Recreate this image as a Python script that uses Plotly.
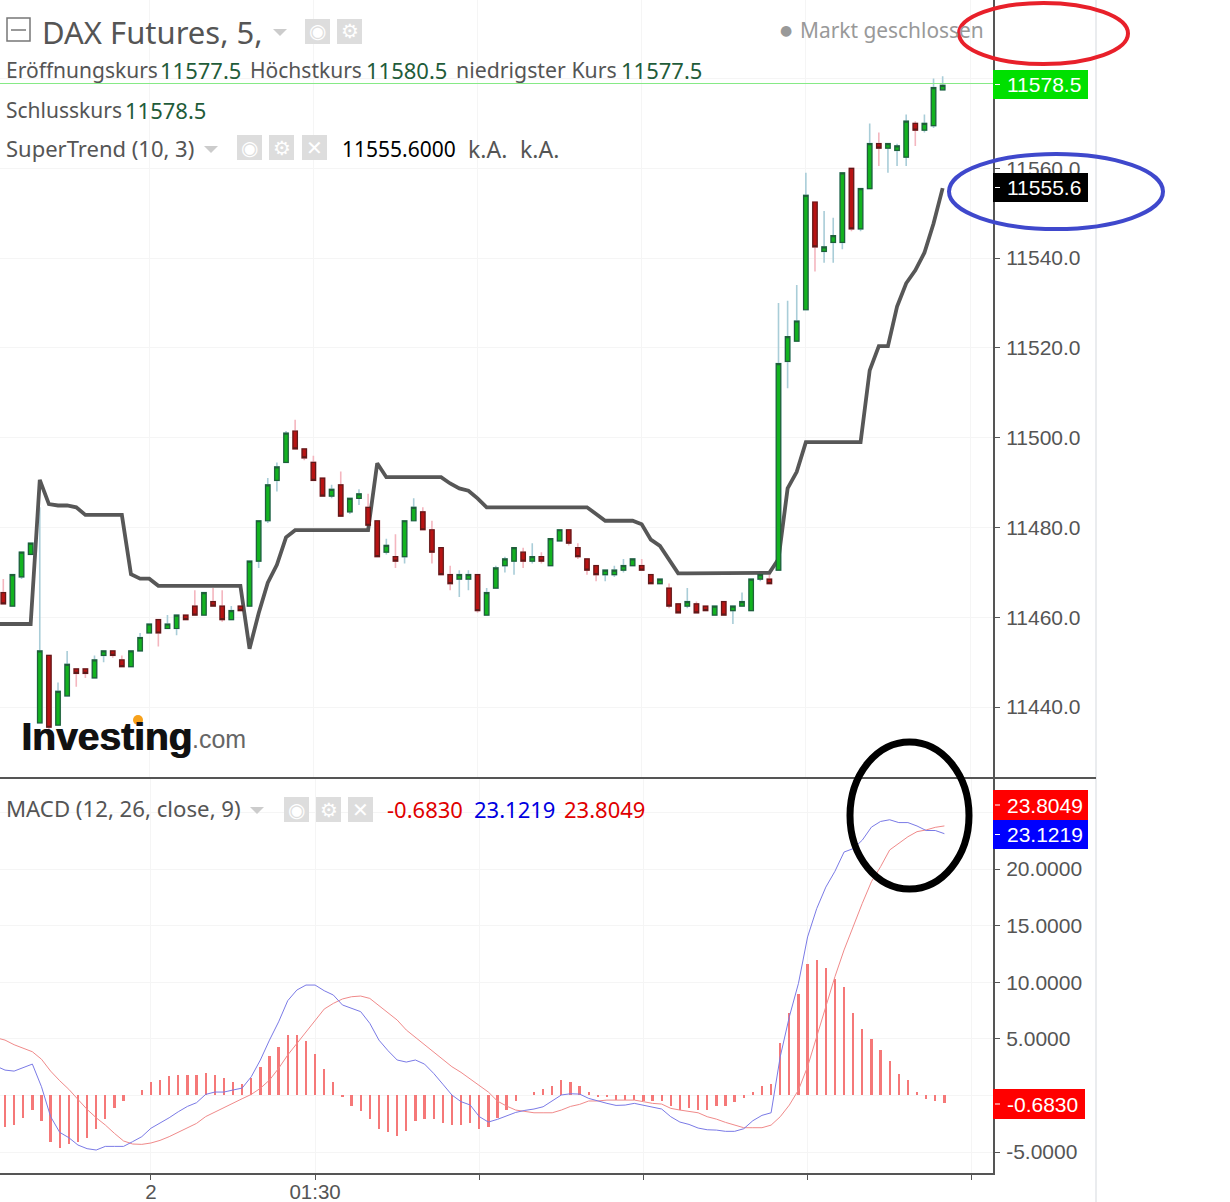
import plotly.graph_objects as go

# Bars are 5 minutes apart, bar index is used as the x value
opens = [
    11465.5, 11462.5, 11469, 11474, 11436.5, 11451.5, 11436, 11442.5, 11448.5, 11448.5,
    11446.5, 11451.5, 11452.5, 11450.5, 11449, 11452.5, 11456.5, 11459.5, 11457.5, 11457.5,
    11460.5, 11462.5, 11460.5, 11463.5, 11462.5, 11459.5, 11462.5, 11462.5, 11472.5, 11481.5,
    11490.5, 11494.5, 11501.5, 11497.5, 11494.5, 11491, 11487, 11489.5, 11483.5, 11486.5,
    11484.5, 11481.5, 11474.5, 11473.5, 11473.5, 11481.5, 11483.5, 11479.5, 11475.5, 11469.5,
    11468.5, 11468.5, 11469.5, 11460.5, 11466.5, 11471.5, 11472.5, 11474.5, 11472.5, 11473.5,
    11471.5, 11477, 11479.5, 11475.5, 11473, 11471.5, 11469.5, 11469.5, 11470.5, 11471.5,
    11471.5, 11469.5, 11467.5, 11466.5, 11463, 11462.5, 11463, 11462.5, 11460.5, 11463.5,
    11461.5, 11462.5, 11461.5, 11468.5, 11468.5, 11470.5, 11517, 11521.5, 11528.5, 11552.5,
    11541.5, 11543.5, 11543.5, 11560, 11546.5, 11555.5, 11565.5, 11564.5, 11564, 11562.5,
    11570, 11568.5, 11569.5, 11577.5,
]
highs = [
    11468.5, 11469.5, 11474.5, 11476.5, 11484.5, 11451.5, 11445.5, 11452.5, 11448.5, 11448.5,
    11451.5, 11452.5, 11452.5, 11451.5, 11452.5, 11456.5, 11458.5, 11459.5, 11460.5, 11460.5,
    11460.5, 11466, 11465.5, 11466.5, 11466, 11462.5, 11462.5, 11472.5, 11481.5, 11491,
    11494.5, 11501.5, 11504, 11497.5, 11496, 11491, 11489.5, 11492.5, 11486.5, 11488.5,
    11487.5, 11481.5, 11477.5, 11478.5, 11481.5, 11486.5, 11484.5, 11481.5, 11475.5, 11471.5,
    11470.5, 11470.5, 11469.5, 11466.5, 11471.5, 11473.5, 11475.5, 11475.5, 11476.5, 11474.5,
    11477.5, 11479.5, 11479.5, 11476.5, 11473, 11471.5, 11470.5, 11471.5, 11473, 11473,
    11473, 11469.5, 11468.5, 11467.5, 11463, 11466.5, 11463.5, 11462.5, 11462.5, 11463.5,
    11462.5, 11465.5, 11468.5, 11469.5, 11469.5, 11530, 11530.5, 11534, 11559, 11552.5,
    11550.5, 11549, 11559, 11560, 11555.5, 11570, 11568, 11565.5, 11565.5, 11572,
    11570.5, 11572, 11580, 11580.5,
]
lows = [
    11463, 11462.5, 11468.5, 11474, 11436.5, 11435, 11436, 11442.5, 11444.5, 11446.5,
    11446.5, 11450, 11451, 11449, 11449, 11452.5, 11456.5, 11453.5, 11457.5, 11456,
    11459.5, 11460.5, 11460.5, 11462.5, 11459, 11459.5, 11461.5, 11462.5, 11471, 11481,
    11488, 11494.5, 11497.5, 11495, 11490.5, 11487, 11486.5, 11482.5, 11483, 11485,
    11480.5, 11473.5, 11474, 11471, 11472, 11481.5, 11479.5, 11472, 11469.5, 11466,
    11464.5, 11466, 11461, 11460.5, 11466.5, 11470, 11469.5, 11471, 11472, 11472,
    11471.5, 11477, 11476, 11473, 11469.5, 11468, 11468, 11469, 11470, 11471.5,
    11470.5, 11467.5, 11467.5, 11462, 11461, 11462, 11461, 11461.5, 11460.5, 11460.5,
    11458.5, 11462.5, 11461.5, 11468, 11467.5, 11470.5, 11511, 11521.5, 11528.5, 11537,
    11539, 11539, 11542, 11546, 11546, 11555.5, 11560.5, 11559, 11560.5, 11560.5,
    11565, 11568, 11569, 11577.5,
]
closes = [
    11463, 11469.5, 11474.5, 11476.5, 11452.5, 11435.5, 11443.5, 11449.5, 11447.5, 11447.5,
    11450.5, 11452.5, 11451.5, 11449, 11452.5, 11455.5, 11458.5, 11456.5, 11458.5, 11460.5,
    11459.5, 11460.5, 11465.5, 11462.5, 11459.5, 11461.5, 11461.5, 11472.5, 11481.5, 11489.5,
    11493.5, 11501, 11497.5, 11495.5, 11490.5, 11487, 11488.5, 11482.5, 11486.5, 11487.5,
    11480.5, 11473.5, 11476, 11472.5, 11481.5, 11484.5, 11479.5, 11474.5, 11469.5, 11467.5,
    11469.5, 11469.5, 11461.5, 11465.5, 11471, 11473, 11475.5, 11472.5, 11473.5, 11472.5,
    11477.5, 11479.5, 11476.5, 11473.5, 11470.5, 11469.5, 11470.5, 11470.5, 11471.5, 11473,
    11470.5, 11467.5, 11468.5, 11462.5, 11461, 11463.5, 11461, 11461.5, 11462.5, 11460.5,
    11462.5, 11463.5, 11468.5, 11469.5, 11467.5, 11516.5, 11522.5, 11526, 11554, 11542.5,
    11542.5, 11545, 11559, 11546.5, 11555.5, 11565.5, 11564.5, 11565.5, 11565, 11570.5,
    11568.5, 11570, 11578, 11578.5,
]
# The three line series start one bar earlier, at index -1, just off the left edge
supertrend = [
    11458.5, 11458.5, 11458.5, 11458.5, 11458.5, 11490.6, 11485.2, 11484.9, 11484.9, 11484.5, 11482.8,
    11482.8, 11482.8, 11482.8, 11482.8, 11469.6, 11468.6, 11468.6, 11467, 11467, 11467,
    11467, 11467, 11467, 11467, 11467, 11467, 11467, 11453, 11460.9, 11467.7,
    11471.7, 11477.8, 11479.4, 11479.4, 11479.4, 11479.4, 11479.4, 11479.4, 11479.4, 11479.4,
    11479.4, 11494.3, 11491.2, 11491.2, 11491.2, 11491.2, 11491.2, 11491.2, 11491.2, 11489.8,
    11488.7, 11488.2, 11486.5, 11484.5, 11484.5, 11484.5, 11484.5, 11484.5, 11484.5, 11484.5,
    11484.5, 11484.5, 11484.5, 11484.5, 11484.5, 11483, 11481.5, 11481.5, 11481.5, 11481.5,
    11480.7, 11477.3, 11475.9, 11473, 11469.8, 11469.8, 11469.8, 11469.8, 11469.8, 11469.8,
    11469.8, 11469.8, 11469.8, 11469.8, 11469.9, 11473, 11488.7, 11492.4, 11499, 11499,
    11499, 11499, 11499, 11499, 11499, 11515, 11520.4, 11520.4, 11529.2, 11534.4,
    11537.3, 11541.2, 11547.7, 11555.6,
]
macd_line = [
    2.6, 2.24, 2.15, 2.48, 2.77, 0.77, -1.87, -3.26, -3.73, -4.38, -4.7,
    -4.82, -4.5, -4.5, -4.5, -4.08, -3.64, -2.9, -2.47, -1.97, -1.44,
    -0.97, -0.64, 0.09, 0.3, 0.3, 0.48, 0.65, 1.65, 3.13, 4.89,
    6.5, 8.37, 9.31, 9.75, 9.75, 9.25, 8.87, 7.99, 7.69, 7.4,
    6.37, 4.89, 3.95, 3.13, 2.95, 3.13, 2.77, 1.95, 1.0, 0.04,
    -0.55, -0.84, -1.87, -2.35, -2.11, -1.82, -1.5, -1.32, -1.2, -1.0,
    -0.47, 0.04, 0.15, 0.12, -0.26, -0.5, -0.7, -0.88, -0.85, -0.7,
    -0.85, -1.03, -1.2, -1.88, -2.35, -2.56, -2.88, -3.03, -3.06, -3.17,
    -3.17, -2.94, -2.23, -1.76, -1.53, 3.42, 6.95, 9.9, 14.0, 16.5,
    18.4, 19.8, 21.5, 21.8, 22.55, 23.7, 24.2, 24.35, 24.1, 24.1,
    23.8, 23.4, 23.4, 23.1219,
]
signal_line = [
    5.1, 4.89, 4.48, 4.16, 3.86, 3.2, 2.15, 1.3, 0.54, -0.35, -1.23,
    -1.97, -2.61, -3.35, -4.02, -4.29, -4.32, -4.2, -3.97, -3.64, -3.26,
    -2.9, -2.47, -1.87, -1.46, -1.11, -0.64, -0.29, 0.09, 0.63, 1.36,
    2.39, 3.57, 4.6, 5.63, 6.66, 7.63, 8.13, 8.52, 8.72, 8.78,
    8.57, 7.93, 7.25, 6.66, 5.78, 5.13, 4.54, 3.86, 3.19, 2.54,
    2.04, 1.45, 0.92, 0.3, -0.5, -0.94, -1.29, -1.44, -1.53, -1.53,
    -1.53, -1.29, -0.97, -0.79, -0.49, -0.49, -0.41, -0.41, -0.41, -0.41,
    -0.55, -0.7, -0.76, -1.14, -1.29, -1.41, -1.53, -1.88, -2.09, -2.38,
    -2.62, -2.85, -2.85, -2.85, -2.62, -1.88, -0.85, 0.48, 2.54, 5.19,
    7.84, 10.49, 12.85, 14.93, 16.97, 18.88, 20.2, 21.68, 22.27, 22.85,
    23.3, 23.45, 23.68, 23.8049,
]
macd_hist = [
    -2.8, -2.6, -1.95, -1.3, -2.3, -4.1, -4.6, -4.3, -4.1, -3.75,
    -2.95, -2.1, -1.1, -0.5, 0, 0.5, 1.2, 1.35, 1.7, 1.85,
    1.85, 1.85, 2.0, 1.85, 1.55, 1.2, 1.0, 1.55, 2.5, 3.5,
    4.3, 5.3, 5.3, 4.85, 3.65, 2.35, 1.2, -0.1, -0.9, -1.4,
    -2.1, -2.95, -3.25, -3.6, -3.1, -2.3, -2.1, -2.1, -2.45, -2.6,
    -2.6, -2.45, -2.95, -2.8, -2.0, -1.3, -0.45, 0, 0.33, 0.54,
    0.86, 1.36, 1.18, 0.86, 0.33, -0.05, -0.17, -0.4, -0.4, -0.4,
    -0.47, -0.47, -0.47, -0.93, -1.3, -1.14, -1.3, -1.3, -0.93, -0.93,
    -0.6, -0.26, 0.33, 0.86, 1.0, 4.66, 7.3, 9.0, 11.6, 11.95,
    11.3, 10.3, 9.6, 7.3, 5.85, 5.0, 4.0, 3.0, 1.86, 1.36,
    0.33, -0.3, -0.47, -0.683,
]

time_ticks = [16, 34, 52, 70, 88, 106]
time_labels = ["2", "01:30", "", "", "", ""]
price_ticks = [11440, 11460, 11480, 11500, 11520, 11540, 11560, 11580]
price_labels = ["11440.0", "11460.0", "11480.0", "11500.0", "11520.0", "11540.0", "11560.0", "11580.0"]
macd_ticks = [-5, 0, 5, 10, 15, 20, 25]
macd_labels = ["-5.0000", "0.0000", "5.0000", "10.0000", "15.0000", "20.0000", "25.0000"]
last_price_line = 11578.9

WIDTH, HEIGHT = 1230, 1202
PLOT_W, PLOT_H = 993, 1173
GREY = "#555555"
VALUE_GREEN = "#1f5c3a"
FONT = "Noto Sans"
AXIS_FONT = dict(size=21, color=GREY, family="Liberation Sans")

bars = list(range(len(closes)))
line_bars = list(range(-1, len(closes)))
body_tops = [max(o, c) for o, c in zip(opens, closes)]
body_bottoms = [min(o, c) for o, c in zip(opens, closes)]


def px(x):
    return x / PLOT_W


def py(y):
    return 1 - y / PLOT_H


def label(x, y, text, size=22, color=GREY, family=FONT, anchor="left", shadow=None):
    font = dict(size=size, color=color, family=family)
    if shadow:
        font["shadow"] = shadow
    return dict(
        xref="paper", yref="paper", x=px(x), y=py(y), text=text, showarrow=False,
        xanchor=anchor, yanchor="middle", borderpad=0, borderwidth=0, font=font,
    )


def rect(x0, y0, x1, y1, fill, line=None, width=0):
    return dict(
        type="rect", xref="paper", yref="paper", x0=px(x0), x1=px(x1), y0=py(y0), y1=py(y1),
        fillcolor=fill, line=dict(color=line or fill, width=width), layer="above",
    )


def ellipse(x0, y0, x1, y1, color, width, fill=None):
    shape = dict(
        type="circle", xref="paper", yref="paper", x0=px(x0), x1=px(x1), y0=py(y0), y1=py(y1),
        line=dict(color=color, width=width), layer="above",
    )
    if fill:
        shape["fillcolor"] = fill
    return shape


def hline(x0, x1, y, color, width):
    return dict(
        type="line", xref="paper", yref="paper", x0=px(x0), x1=px(x1), y0=py(y), y1=py(y),
        line=dict(color=color, width=width), layer="above",
    )


def triangle(x, y):
    path = f"M {px(x)} {py(y)} L {px(x + 14)} {py(y)} L {px(x + 7)} {py(y + 7)} Z"
    return dict(type="path", xref="paper", yref="paper", path=path, fillcolor="#cccccc",
                line=dict(width=0), layer="above")


fig = go.Figure()

# Wicks sit under the SuperTrend line, bodies go on an overlay axis above it
fig.add_trace(go.Candlestick(
    x=bars, open=opens, high=highs, low=lows, close=closes, xaxis="x", yaxis="y",
    increasing=dict(line=dict(color="#a9cdd8", width=1.6), fillcolor="#a9cdd8"),
    decreasing=dict(line=dict(color="#f4b6bf", width=1.6), fillcolor="#f4b6bf"),
))
fig.add_trace(go.Scatter(
    x=line_bars, y=supertrend, mode="lines", xaxis="x", yaxis="y",
    line=dict(color="#575757", width=3.8),
))
fig.add_trace(go.Candlestick(
    x=bars, open=opens, high=body_tops, low=body_bottoms, close=closes, xaxis="x3", yaxis="y3",
    increasing=dict(line=dict(color="#1f5f38", width=1.2), fillcolor="#12b320"),
    decreasing=dict(line=dict(color="#5e1a1a", width=1.2), fillcolor="#b81313"),
))

fig.add_trace(go.Bar(
    x=bars, y=macd_hist, width=0.25, xaxis="x2", yaxis="y2",
    marker=dict(color="#f57878", line=dict(width=0)),
))
fig.add_trace(go.Scatter(
    x=line_bars, y=signal_line, mode="lines", xaxis="x2", yaxis="y2",
    line=dict(color="#f08a8a", width=1),
))
fig.add_trace(go.Scatter(
    x=line_bars, y=macd_line, mode="lines", xaxis="x2", yaxis="y2",
    line=dict(color="#7a7ae6", width=1),
))

price_axis = dict(
    domain=[py(778), 1], range=[11424.2, 11597.5], side="right",
    tickmode="array", tickvals=price_ticks, ticktext=price_labels,
    showgrid=True, gridcolor="#f5f5f5", zeroline=False,
    showline=True, linecolor=GREY, linewidth=2, ticks="outside", ticklen=5, tickcolor=GREY,
    tickfont=AXIS_FONT, ticklabelstandoff=2,
)
candle_x = dict(
    range=[-0.362, 108.52], tickmode="array", tickvals=time_ticks, ticktext=time_labels,
    showgrid=True, gridcolor="#f5f5f5", zeroline=False, showticklabels=False, ticks="",
    rangeslider=dict(visible=False),
)

fig.update_layout(
    width=WIDTH, height=HEIGHT, paper_bgcolor="white", plot_bgcolor="white",
    margin=dict(l=0, r=WIDTH - PLOT_W, t=0, b=HEIGHT - PLOT_H, autoexpand=False),
    showlegend=False, boxgap=0.3, bargap=0,
    xaxis=dict(candle_x, anchor="y"),
    yaxis=dict(price_axis, anchor="x"),
    xaxis3=dict(candle_x, overlaying="x", anchor="y3", showgrid=False, visible=False),
    yaxis3=dict(
        overlaying="y", domain=price_axis["domain"], range=price_axis["range"],
        side="right", visible=False, showgrid=False,
    ),
    xaxis2=dict(
        domain=[0, 1], range=[-0.548, 108.33], anchor="y2",
        tickmode="array", tickvals=time_ticks, ticktext=time_labels,
        showgrid=True, gridcolor="#f5f5f5", zeroline=False,
        showline=True, linecolor=GREY, linewidth=2, ticks="outside", ticklen=5, tickcolor=GREY,
        tickfont=dict(AXIS_FONT, size=20.5), ticklabelstandoff=-6,
    ),
    yaxis2=dict(
        domain=[0, py(779)], range=[-6.85, 27.95], side="right", anchor="x2",
        tickmode="array", tickvals=macd_ticks, ticktext=macd_labels,
        showgrid=True, gridcolor="#f5f5f5", zeroline=False,
        showline=True, linecolor=GREY, linewidth=2, ticks="outside", ticklen=5, tickcolor=GREY,
        tickfont=AXIS_FONT, ticklabelstandoff=2,
    ),
)

shapes = [
    # pane divider and outer border
    hline(0, 1096, 778, GREY, 2),
    dict(type="line", xref="paper", yref="paper", x0=px(1096), x1=px(1096), y0=py(0), y1=py(1202),
         line=dict(color="#d5d9de", width=1), layer="below"),
    # last price line
    dict(type="line", xref="x", yref="y", x0=-0.362, x1=108.52, y0=last_price_line, y1=last_price_line,
         line=dict(color="#86ea86", width=1), layer="above"),
    # collapse button
    rect(7, 18, 30, 41, "white", "#777777", 1.5),
    hline(11, 26, 30, "#777777", 1.5),
    triangle(273, 29),
    triangle(204, 146),
    triangle(250, 807),
    # orange dot of the logo
    ellipse(133, 715, 143, 725, "#f7a11a", 0, "#f7a11a"),
]

annotations = [
    label(42, 32, "DAX Futures, 5,", 31),
    label(6, 70, "Eröffnungskurs", 21),
    label(160, 70, "11577.5", color=VALUE_GREEN),
    label(250, 70, "Höchstkurs", 21),
    label(366, 70, "11580.5", color=VALUE_GREEN),
    label(456, 70, "niedrigster Kurs", 21.3),
    label(621, 70, "11577.5", color=VALUE_GREEN),
    label(6, 109.5, "Schlusskurs", 21),
    label(125, 109.5, "11578.5", color=VALUE_GREEN),
    label(6, 148, "SuperTrend (10, 3)"),
    label(342, 148.5, "11555.6000", 21, color="black"),
    label(468, 148.5, "k.A.", 23),
    label(520, 148.5, "k.A.", 23),
    label(6, 808.5, "MACD (12, 26, close, 9)", 22.2),
    label(387, 809, "-0.6830", color="#e00000"),
    label(474, 809, "23.1219", color="#0000e0"),
    label(564, 809, "23.8049", color="#e00000"),
    label(780, 30, "●", 14, "#999999", "DejaVu Sans"),
    label(800, 30, "Markt geschlossen", 20.9, "#999999"),
    label(21, 736, "<b>Investing</b>", 39, "#111111", "Liberation Sans", shadow="1px 0px 0px #111111"),
    label(192, 739, ".com", 25, "#666666", "Liberation Sans"),
]

# grey icon buttons next to the legend rows
for x0, y0, glyph in [
    (305, 19, "◉"), (337, 19, "⚙"),
    (237, 135, "◉"), (269, 135, "⚙"), (302, 135, "✕"),
    (284, 797, "◉"), (316, 797, "⚙"), (348, 797, "✕"),
]:
    shapes.append(rect(x0, y0, x0 + 25, y0 + 25, "#dddddd"))
    annotations.append(label(x0 + 12.5, y0 + 12.5, glyph, 20, "white", "DejaVu Sans", "center"))

# value tags on the right hand axis
for y0, y1, x1, color, text in [
    (70, 99, 1088, "#00e000", "11578.5"),
    (173, 202, 1088, "#000000", "11555.6"),
    (790, 820, 1088, "#ff0000", "23.8049"),
    (820, 849, 1088, "#0000ff", "23.1219"),
    (1089, 1119, 1085, "#ff0000", "-0.6830"),
]:
    shapes.append(rect(993, y0, x1, y1, color))
    shapes.append(hline(995, 1000, (y0 + y1) / 2, "white", 1))
    annotations.append(label(1007, (y0 + y1) / 2, text, 21, "white", "Liberation Sans"))

shapes += [
    ellipse(959, 3, 1128, 64, "#e8202a", 4),
    ellipse(949, 154, 1163, 229, "#3f48cc", 4),
    ellipse(850, 742, 969, 889, "black", 7),
]

fig.update_layout(shapes=shapes, annotations=annotations)

fig.write_html(
    "out.html",
    config=dict(displayModeBar=False),
    post_script="document.body.style.margin='0';",
)
